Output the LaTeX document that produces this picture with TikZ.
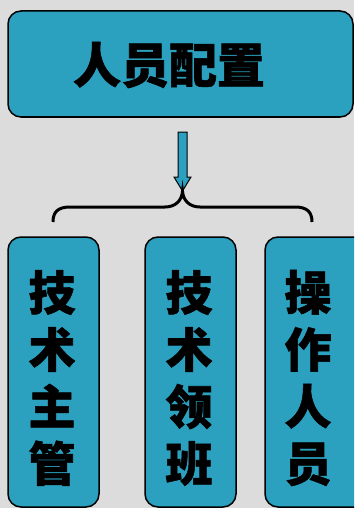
\documentclass[tikz,border=0pt]{standalone}
\usepackage{fontspec}
\newfontfamily\cjk{Noto Sans CJK SC}[BoldFeatures={FakeBold=1.2}]
\definecolor{bgc}{HTML}{DCDCDC}
\definecolor{boxc}{HTML}{2BA1BF}
\begin{document}
\begin{tikzpicture}[x=1pt,y=-1pt,
  box/.style={draw=black,line width=1.5pt,fill=boxc,rounded corners=13pt},
  ttl/.style={font=\cjk\bfseries\fontsize{48}{48}\selectfont,inner sep=0pt},
  col/.style={font=\cjk\bfseries\fontsize{47}{57}\selectfont,align=center,inner sep=0pt}]
\useasboundingbox (0,0) rectangle (354,508);
\fill[bgc] (0,0) rectangle (354,508);
\begin{scope}
\clip (0,0) rectangle (354,508);
\draw[box] (8,11) rectangle (353,117);
\draw[box] (8,237) rectangle (99,507);
\draw[box] (145,237) rectangle (236,507);
\draw[box] (265,237) rectangle (370,507);
\end{scope}
\node[ttl] (top) at (169,65) {人员配置};
\node[col] (a) at (52,378) {技\\术\\主\\管};
\node[col] (b) at (189,378) {技\\术\\领\\班};
\node[col] (c) at (308,378) {操\\作\\人\\员};
\coordinate (tip) at (182.5,191);
\draw[fill=boxc,line width=1pt,line join=miter]
  (178,132) -- (187,132) -- (187,177) -- (191,177) -- (tip) -- (174,177) -- (178,177) -- cycle;
\draw[line width=3pt]
  (53,222) .. controls (53,212) and (58,207) .. (70,207)
  -- (165,207) .. controls (176,207) and (182,200) .. (tip)
  .. controls (183,200) and (189,207) .. (200,207)
  -- (295,207) .. controls (307,207) and (312,212) .. (312,222);
\end{tikzpicture}
\end{document}
